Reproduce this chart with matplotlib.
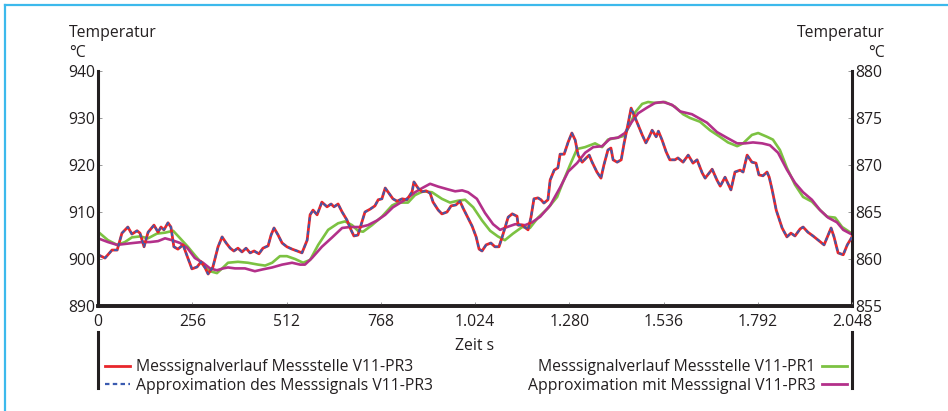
import matplotlib
matplotlib.use("Agg")
import matplotlib.pyplot as plt
from matplotlib.lines import Line2D

plt.rcParams['font.family'] = ['Open Sans', 'DejaVu Sans']

# Messsignal V11-PR3 (linke Achse), Zeit in s
pr3_t = [0, 19, 38, 52, 65, 81, 92, 106, 114, 125, 136, 152, 163, 171, 179, 190, 198, 206, 217, 231,
         244, 255, 269, 280, 291, 299, 312, 326, 337, 348, 359, 369, 380, 391, 402, 413, 424, 437, 448, 462,
         470, 478, 489, 500, 513, 527, 541, 554, 568, 576, 584, 595, 608, 622, 633, 641, 652, 663, 676, 687,
         695, 706, 717, 725, 739, 752, 761, 771, 780, 790, 801, 812, 826, 839, 853, 858, 869, 880, 891, 902,
         910, 924, 934, 948, 959, 972, 983, 991, 1005, 1016, 1027, 1035, 1043, 1054, 1067, 1078, 1089, 1097,
         1114, 1125, 1138, 1141, 1152, 1168, 1176, 1184, 1195, 1203, 1211, 1222, 1228, 1239, 1249, 1255,
         1266, 1277, 1287, 1296, 1304, 1315, 1326, 1334, 1342, 1355, 1366, 1374, 1385, 1393, 1399, 1410,
         1421, 1429, 1440, 1448, 1456, 1467, 1478, 1488, 1497, 1505, 1516, 1522, 1532, 1543, 1553, 1567,
         1575, 1589, 1603, 1616, 1627, 1641, 1649, 1668, 1681, 1690, 1703, 1719, 1730, 1744, 1752, 1763,
         1776, 1787, 1795, 1806, 1817, 1823, 1831, 1842, 1858, 1871, 1882, 1893, 1907, 1915, 1928, 1942,
         1956, 1972, 1980, 1991, 1999, 2010, 2024, 2035, 2048]
pr3_temp = [900.9, 900.2, 901.9, 901.9, 905.5, 906.8, 905.3, 906.0, 905.5, 902.6, 905.7, 907.2, 905.7,
            906.8, 906.2, 907.7, 906.8, 902.6, 902.1, 903.0, 900.2, 897.9, 898.3, 899.4, 898.1, 896.8,
            898.3, 902.6, 904.7, 903.4, 902.3, 901.7, 902.3, 901.5, 902.3, 901.3, 901.7, 901.1, 902.3,
            902.8, 905.1, 906.6, 905.1, 903.4, 902.6, 902.1, 901.7, 901.3, 904.0, 909.4, 910.4, 909.4,
            912.1, 911.1, 911.7, 911.1, 911.7, 910.0, 908.3, 906.2, 904.9, 905.1, 907.9, 910.0, 910.6,
            911.3, 912.6, 912.8, 915.1, 914.0, 912.8, 912.3, 912.8, 912.6, 914.3, 916.4, 915.1, 914.3,
            914.5, 914.0, 912.1, 910.4, 909.6, 910.0, 911.3, 911.5, 912.3, 910.9, 908.7, 907.0, 904.7,
            902.1, 901.7, 903.0, 903.4, 902.6, 902.6, 904.5, 908.9, 909.6, 909.1, 907.2, 907.2, 906.2,
            908.9, 912.8, 913.0, 912.6, 911.9, 912.6, 916.8, 918.9, 919.4, 922.3, 922.3, 924.9, 926.8,
            925.3, 922.1, 920.6, 921.5, 922.1, 920.6, 918.5, 917.2, 920.0, 923.2, 923.6, 921.1, 920.6,
            921.1, 924.7, 928.9, 932.1, 930.6, 928.5, 926.4, 924.7, 926.0, 927.4, 926.0, 927.2, 925.3,
            922.8, 921.1, 921.1, 921.5, 920.6, 922.1, 920.4, 921.1, 918.3, 917.2, 919.1, 916.8, 915.5,
            917.4, 914.7, 918.5, 918.9, 918.5, 922.1, 920.6, 920.4, 917.9, 917.7, 918.5, 917.4, 914.7,
            910.4, 906.6, 904.7, 905.5, 904.9, 906.4, 906.8, 905.7, 904.9, 904.0, 903.0, 904.5, 906.6,
            904.7, 901.3, 900.9, 903.0, 904.7]

# Messsignal V11-PR1 (rechte Achse)
pr1_t = [0, 27, 52, 73, 92, 114, 136, 160, 182, 204, 223, 244, 263, 285, 304, 323, 340, 353, 380, 407,
         435, 454, 473, 494, 513, 535, 557, 576, 598, 625, 652, 671, 690, 706, 720, 744, 771, 799, 815,
         842, 861, 883, 907, 934, 956, 978, 997, 1019, 1043, 1065, 1086, 1105, 1127, 1152, 1173, 1195,
         1222, 1247, 1263, 1282, 1301, 1323, 1350, 1369, 1385, 1410, 1429, 1445, 1459, 1478, 1494, 1513,
         1540, 1567, 1589, 1608, 1635, 1662, 1689, 1711, 1736, 1752, 1776, 1793, 1817, 1833, 1852, 1871,
         1893, 1915, 1939, 1956, 1980, 2002, 2021, 2048]
pr1_temp = [862.9, 862.0, 861.5, 861.8, 862.3, 862.4, 862.2, 862.7, 862.8, 863.0, 862.2, 861.3, 860.4,
            859.4, 858.7, 858.5, 859.1, 859.6, 859.7, 859.6, 859.4, 859.3, 859.6, 860.3, 860.3, 860.0,
            859.6, 859.9, 861.5, 863.1, 863.8, 864.0, 863.6, 863.0, 862.9, 863.6, 864.5, 865.7, 866.0,
            866.0, 866.8, 867.2, 867.1, 866.4, 866.0, 866.2, 866.3, 865.5, 864.1, 863.0, 862.4, 862.0,
            862.7, 863.4, 863.3, 864.4, 865.4, 866.6, 868.2, 870.0, 871.7, 871.9, 872.3, 871.9, 872.7,
            872.9, 873.1, 874.3, 875.6, 876.5, 876.7, 876.6, 876.7, 876.2, 875.4, 875.0, 874.6, 873.7,
            873.0, 872.4, 872.0, 872.3, 873.2, 873.4, 873.0, 872.7, 871.6, 869.7, 867.9, 866.6, 866.1,
            865.4, 864.5, 864.4, 863.4, 862.7]

# Approximation mit Messsignal V11-PR3 (rechte Achse)
appr_t = [0, 27, 52, 73, 95, 119, 141, 163, 182, 201, 223, 242, 263, 285, 304, 323, 340, 353, 372, 399,
          426, 448, 473, 500, 527, 549, 562, 581, 608, 636, 663, 684, 712, 733, 758, 780, 801, 826, 842,
          861, 883, 902, 924, 951, 970, 989, 1005, 1029, 1051, 1073, 1092, 1111, 1133, 1160, 1179, 1201,
          1228, 1255, 1277, 1301, 1323, 1345, 1369, 1391, 1412, 1431, 1450, 1467, 1491, 1513, 1535, 1559,
          1581, 1613, 1654, 1681, 1708, 1736, 1757, 1779, 1804, 1825, 1847, 1871, 1893, 1915, 1939, 1961,
          1983, 2007, 2024, 2043, 2048]
appr_temp = [862.2, 861.8, 861.5, 861.6, 861.7, 861.8, 861.8, 861.9, 862.2, 862.0, 861.7, 861.2, 860.1,
             859.6, 859.0, 858.8, 859.0, 859.1, 859.0, 859.0, 858.7, 858.9, 859.1, 859.4, 859.6, 859.4,
             859.4, 860.1, 861.3, 862.3, 863.3, 863.4, 863.4, 863.6, 864.1, 864.7, 865.5, 866.1, 866.5,
             867.1, 867.6, 868.0, 867.7, 867.4, 867.2, 867.3, 867.1, 866.4, 864.9, 863.7, 863.1, 863.4,
             863.7, 863.6, 863.9, 864.5, 865.7, 867.6, 869.3, 870.2, 871.3, 871.9, 872.0, 872.8, 872.9,
             873.4, 874.6, 875.5, 876.1, 876.6, 876.7, 876.4, 875.7, 875.4, 874.5, 873.5, 872.9, 872.3,
             872.3, 872.4, 872.3, 872.1, 871.3, 869.5, 868.1, 867.1, 866.3, 865.2, 864.4, 863.9, 863.1,
             862.7, 862.6]

x_ticks = [0, 256, 512, 768, 1024, 1280, 1536, 1792, 2048]
x_labels = ['0', '256', '512', '768', '1.024', '1.280', '1.536', '1.792', '2.048']
left_ticks = [890, 900, 910, 920, 930, 940]
right_ticks = [855, 860, 865, 870, 875, 880]

RED = '#e8262b'
BLUE = '#3a5bb0'
GREEN = '#7cc242'
MAGENTA = '#b3308a'
DARK = '#231f20'
FS = 11.3

fig = plt.figure(figsize=(9.48, 4.11), dpi=100)
ax = fig.add_axes([0.1034, 0.2555, 0.7954, 0.5718])
ax2 = ax.twinx()
ax.set_zorder(ax2.get_zorder() + 1)
ax.patch.set_visible(False)

ax2.plot(pr1_t, pr1_temp, color=GREEN, lw=1.9)
ax2.plot(appr_t, appr_temp, color=MAGENTA, lw=1.9)
ax.plot(pr3_t, pr3_temp, color=RED, lw=2.0)
ax.plot(pr3_t, pr3_temp, color=BLUE, lw=1.4, dashes=(2.0, 1.5))

ax.set_xlim(0, 2048)
ax.set_ylim(890, 940)
ax2.set_ylim(855, 880)
ax.set_xticks(x_ticks)
ax.set_xticklabels(x_labels)
ax.set_yticks(left_ticks)
ax2.set_yticks(right_ticks)

for a in (ax, ax2):
    a.spines['top'].set_visible(False)
    for s in ('left', 'right'):
        a.spines[s].set_linewidth(2.2)
        a.spines[s].set_color(DARK)
    a.spines['bottom'].set_linewidth(2.6)
    a.spines['bottom'].set_color(DARK)
    a.tick_params(direction='in', length=3, width=0.7, color='#999999',
                  labelsize=FS, labelcolor=DARK, pad=2)
ax2.spines['left'].set_visible(False)
ax.spines['right'].set_visible(False)
ax.tick_params(axis='x', pad=6)

fig.text(69 / 948, 1 - 43 / 411, 'Temperatur\n°C', fontsize=FS, color=DARK,
         ha='left', va='center', linespacing=1.4)
fig.text(885 / 948, 1 - 43 / 411, 'Temperatur\n°C', fontsize=FS, color=DARK,
         ha='right', va='center', linespacing=1.4, multialignment='right')
fig.text(475 / 948, 1 - 346 / 411, 'Zeit s', fontsize=FS, color=DARK, ha='center', va='center')

h_red = Line2D([], [], color=RED, lw=2.0)
h_blue = Line2D([], [], color=BLUE, lw=1.6, dashes=(2.0, 1.5))
h_green = Line2D([], [], color=GREEN, lw=2.0)
h_mag = Line2D([], [], color=MAGENTA, lw=2.0)

leg1 = fig.legend([h_red, h_blue],
                  ['Messsignalverlauf Messstelle V11-PR3', 'Approximation des Messsignals V11-PR3'],
                  loc='upper left', bbox_to_anchor=(105 / 948, 1 - 359 / 411), frameon=False,
                  fontsize=FS, handlelength=1.6, handletextpad=0.4, labelspacing=0.16,
                  borderpad=0, borderaxespad=0)
leg2 = fig.legend([h_green, h_mag],
                  ['Messsignalverlauf Messstelle V11-PR1', 'Approximation mit Messsignal V11-PR3'],
                  loc='upper right', bbox_to_anchor=(847 / 948, 1 - 359 / 411), frameon=False,
                  fontsize=FS, handlelength=1.6, handletextpad=0.4, labelspacing=0.16,
                  borderpad=0, borderaxespad=0, markerfirst=False)
for t in leg1.get_texts() + leg2.get_texts():
    t.set_color(DARK)

# senkrechte Balken der Legende
for xb in (98, 852):
    fig.add_artist(Line2D([xb / 948, xb / 948], [1 - 332 / 411, 1 - 388 / 411],
                          transform=fig.transFigure, color=DARK, lw=2.2))

# hellblauer Rahmen oben und links
fig.add_artist(Line2D([5 / 948, 1.0], [1 - 5 / 411, 1 - 5 / 411], transform=fig.transFigure,
                      color='#3cb9ec', lw=1.6))
fig.add_artist(Line2D([5 / 948, 5 / 948], [0, 1 - 5 / 411], transform=fig.transFigure,
                      color='#3cb9ec', lw=1.6))

fig.savefig('out.png', dpi=100)
